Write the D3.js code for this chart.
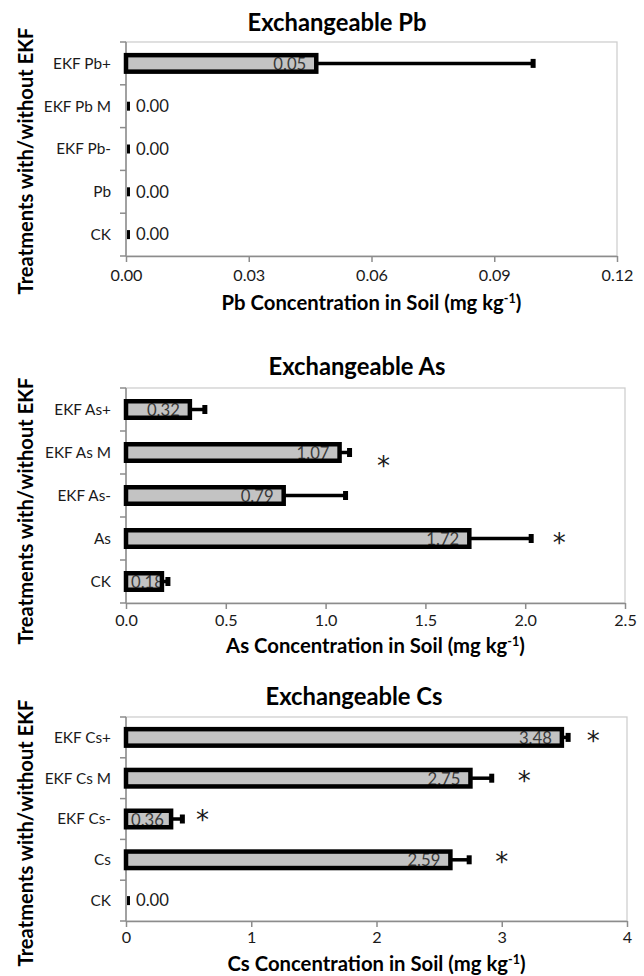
<!DOCTYPE html>
<html><head><meta charset="utf-8">
<script src="https://cdn.jsdelivr.net/npm/d3@7"></script>
<style>body{margin:0;background:#fff}</style>
</head><body>
<svg id="chart" width="644" height="976"></svg>
<script>
// ---------------- data ----------------
const pbCategories = ["EKF Pb+", "EKF Pb M", "EKF Pb-", "Pb", "CK"];
const pbValues = [0.0465, 0, 0, 0, 0];
const pbErrors = [0.053, 0, 0, 0, 0];
const pbStars  = [null, null, null, null, null];
const pbTicks  = [0, 0.03, 0.06, 0.09, 0.12];

const asCategories = ["EKF As+", "EKF As M", "EKF As-", "As", "CK"];
const asValues = [0.32, 1.07, 0.79, 1.72, 0.18];
const asErrors = [0.075, 0.05, 0.31, 0.31, 0.03];
const asStars  = [null, 1.29, null, 2.17, null];
const asTicks  = [0, 0.5, 1.0, 1.5, 2.0, 2.5];

const csCategories = ["EKF Cs+", "EKF Cs M", "EKF Cs-", "Cs", "CK"];
const csValues = [3.48, 2.75, 0.36, 2.59, 0];
const csErrors = [0.05, 0.17, 0.09, 0.15, 0];
const csStars  = [3.73, 3.18, 0.61, 3.0, null];
const csTicks  = [0, 1, 2, 3, 4];

const titles   = ["Exchangeable Pb", "Exchangeable As", "Exchangeable Cs"];
const elements = ["Pb", "As", "Cs"];
const yTitle   = "Treatments with/without EKF";

// ---------------- layout / style ----------------
const FONT = "Lato, 'Open Sans', sans-serif";
const layouts = [
  {x0:126, x1:617, y0:42,  y1:256, titleX:337, titleY:23,  yTitleY:161, tickY:275, axisTitleY:303, starDy:[0,0,0,0,0],   fmt:d3.format(".2f")},
  {x0:126, x1:625, y0:388, y1:603, titleX:357, titleY:367, yTitleY:511, tickY:620, axisTitleY:646, starDy:[0,9,0,0,0],   fmt:d3.format(".1f")},
  {x0:126, x1:627, y0:717, y1:921, titleX:354, titleY:697, yTitleY:833, tickY:937, axisTitleY:964, starDy:[0,-1,-3,-2,0], fmt:d3.format("d")}
];
const panels = [
  {cats:pbCategories, vals:pbValues, errs:pbErrors, stars:pbStars, ticks:pbTicks},
  {cats:asCategories, vals:asValues, errs:asErrors, stars:asStars, ticks:asTicks},
  {cats:csCategories, vals:csValues, errs:csErrors, stars:csStars, ticks:csTicks}
];

const svg = d3.select("#chart");

function measure(build) {
  const t = svg.append("text").attr("font-family", FONT).attr("font-size", 100);
  build(t);
  const w = t.node().getBBox().width;
  t.remove();
  return w;
}
function sizeFor(str, weight, target) {
  const w = measure(t => t.attr("font-weight", weight).text(str));
  return 100 * target / w;
}
function axisTitle(sel, el) {
  sel.append("tspan").text(el + " Concentration in Soil (mg kg");
  sel.append("tspan").attr("font-size", "0.62em").attr("dy", "-0.55em").text("-1");
  sel.append("tspan").attr("dy", "0.34em").text(")");
}

const catSize   = sizeFor("EKF Pb+", "normal", 58);
const tickSize  = sizeFor("0.00", "normal", 32);
const labelSize = sizeFor("0.05", "normal", 33);
const titleSize = sizeFor("Exchangeable Pb", "bold", 179);
const yTitleSize = sizeFor(yTitle, "bold", 267);
const axisTitleSize = 100 * 300 / measure(t => { t.attr("font-weight", "bold"); axisTitle(t, "Pb"); });

panels.forEach((p, pi) => {
  const L = layouts[pi];
  const g = svg.append("g");
  const x = d3.scaleLinear().domain([p.ticks[0], p.ticks[p.ticks.length - 1]]).range([L.x0, L.x1]);
  const y = d3.scaleBand().domain(p.cats).range([L.y0, L.y1]);
  const bw = y.bandwidth();

  // plot area border
  g.append("rect").attr("x", L.x0).attr("y", L.y0).attr("width", L.x1 - L.x0).attr("height", L.y1 - L.y0)
    .attr("fill", "none").attr("stroke", "#cfcfcf").attr("stroke-width", 1.3);

  // x axis
  const xa = g.append("g").attr("transform", `translate(0,${L.y1})`)
    .call(d3.axisBottom(x).tickValues(p.ticks).tickFormat(L.fmt).tickSize(6).tickSizeOuter(0));
  xa.select(".domain").attr("stroke", "#8c8c8c").attr("stroke-width", 1.5);
  xa.selectAll(".tick line").attr("stroke", "#8c8c8c").attr("stroke-width", 1.5);
  xa.selectAll(".tick text").attr("font-family", FONT).attr("font-size", tickSize).attr("fill", "#1a1a1a")
    .attr("y", L.tickY - L.y1).attr("dy", "0.35em");

  // y axis (ticks at band boundaries)
  g.append("line").attr("x1", L.x0).attr("x2", L.x0).attr("y1", L.y0).attr("y2", L.y1)
    .attr("stroke", "#8c8c8c").attr("stroke-width", 1.5);
  const bounds = p.cats.map(c => y(c)).concat([L.y1]);
  g.selectAll(".ytick").data(bounds).join("line")
    .attr("x1", L.x0 - 6).attr("x2", L.x0).attr("y1", d => d).attr("y2", d => d)
    .attr("stroke", "#8c8c8c").attr("stroke-width", 1.5);
  g.selectAll(".ycat").data(p.cats).join("text")
    .attr("x", L.x0 - 15).attr("y", d => y(d) + bw / 2).attr("dy", "0.35em")
    .attr("text-anchor", "end").attr("font-family", FONT).attr("font-size", catSize).attr("fill", "#1a1a1a")
    .text(d => d);

  const rows = p.cats.map((c, i) => ({c, v: p.vals[i], e: p.errs[i], s: p.stars[i], sd: L.starDy[i]}));
  const barH = 16.5;

  // bar fills
  g.selectAll(".barfill").data(rows.filter(r => r.v > 0)).join("rect")
    .attr("x", x(0)).attr("y", r => y(r.c) + bw / 2 - barH / 2)
    .attr("width", r => x(r.v) - x(0)).attr("height", barH).attr("fill", "#c3c3c3");

  // data labels
  rows.forEach(r => {
    const cy = y(r.c) + bw / 2;
    const txt = d3.format(".2f")(r.v);
    const t = g.append("text").attr("font-family", FONT).attr("font-size", labelSize).text(txt);
    if (r.v === 0) {
      t.attr("x", x(0) + 10).attr("y", cy).attr("dy", "0.35em").attr("fill", "#1a1a1a");
    } else {
      const w = t.node().getComputedTextLength();
      const end = Math.max(x(r.v) - 10, x(0) + 5 + w);
      t.attr("x", end).attr("text-anchor", "end").attr("y", cy + 6.5).attr("fill", "#3a3a3a");
    }
  });

  // bar outlines
  g.selectAll(".barline").data(rows.filter(r => r.v > 0)).join("rect")
    .attr("x", x(0)).attr("y", r => y(r.c) + bw / 2 - barH / 2)
    .attr("width", r => x(r.v) - x(0)).attr("height", barH)
    .attr("fill", "none").attr("stroke", "#000").attr("stroke-width", 4.5);

  // error bars
  g.selectAll(".errline").data(rows.filter(r => r.e > 0)).join("line")
    .attr("x1", r => x(r.v)).attr("x2", r => x(r.v + r.e))
    .attr("y1", r => y(r.c) + bw / 2).attr("y2", r => y(r.c) + bw / 2)
    .attr("stroke", "#000").attr("stroke-width", 3.5);
  g.selectAll(".errcap").data(rows).join("rect")
    .attr("x", r => x(r.v + r.e) - (r.v + r.e === 0 ? -1 : 2.5)).attr("y", r => y(r.c) + bw / 2 - 4.5)
    .attr("width", r => r.v + r.e === 0 ? 3 : 5).attr("height", 9).attr("fill", "#000");

  // significance stars
  g.selectAll(".star").data(rows.filter(r => r.s !== null)).join("text")
    .attr("x", r => x(r.s)).attr("y", r => y(r.c) + bw / 2 + r.sd + 13)
    .attr("text-anchor", "middle").attr("font-family", "'DejaVu Sans', sans-serif").attr("font-size", 26)
    .attr("fill", "#1a1a1a").text("*");

  // titles
  g.append("text").attr("x", L.titleX).attr("y", L.titleY).attr("dy", "0.35em")
    .attr("text-anchor", "middle").attr("font-family", FONT).attr("font-weight", "bold")
    .attr("font-size", titleSize).attr("fill", "#000").text(titles[pi]);
  g.append("text").attr("transform", `translate(26,${L.yTitleY}) rotate(-90)`).attr("dy", "0.35em")
    .attr("text-anchor", "middle").attr("font-family", FONT).attr("font-weight", "bold")
    .attr("font-size", yTitleSize).attr("fill", "#000").text(yTitle);
  const at = g.append("text").attr("x", (L.x0 + L.x1) / 2).attr("y", L.axisTitleY).attr("dy", "0.35em")
    .attr("text-anchor", "middle").attr("font-family", FONT).attr("font-weight", "bold")
    .attr("font-size", axisTitleSize).attr("fill", "#000");
  axisTitle(at, elements[pi]);
});
</script>
</body></html>
